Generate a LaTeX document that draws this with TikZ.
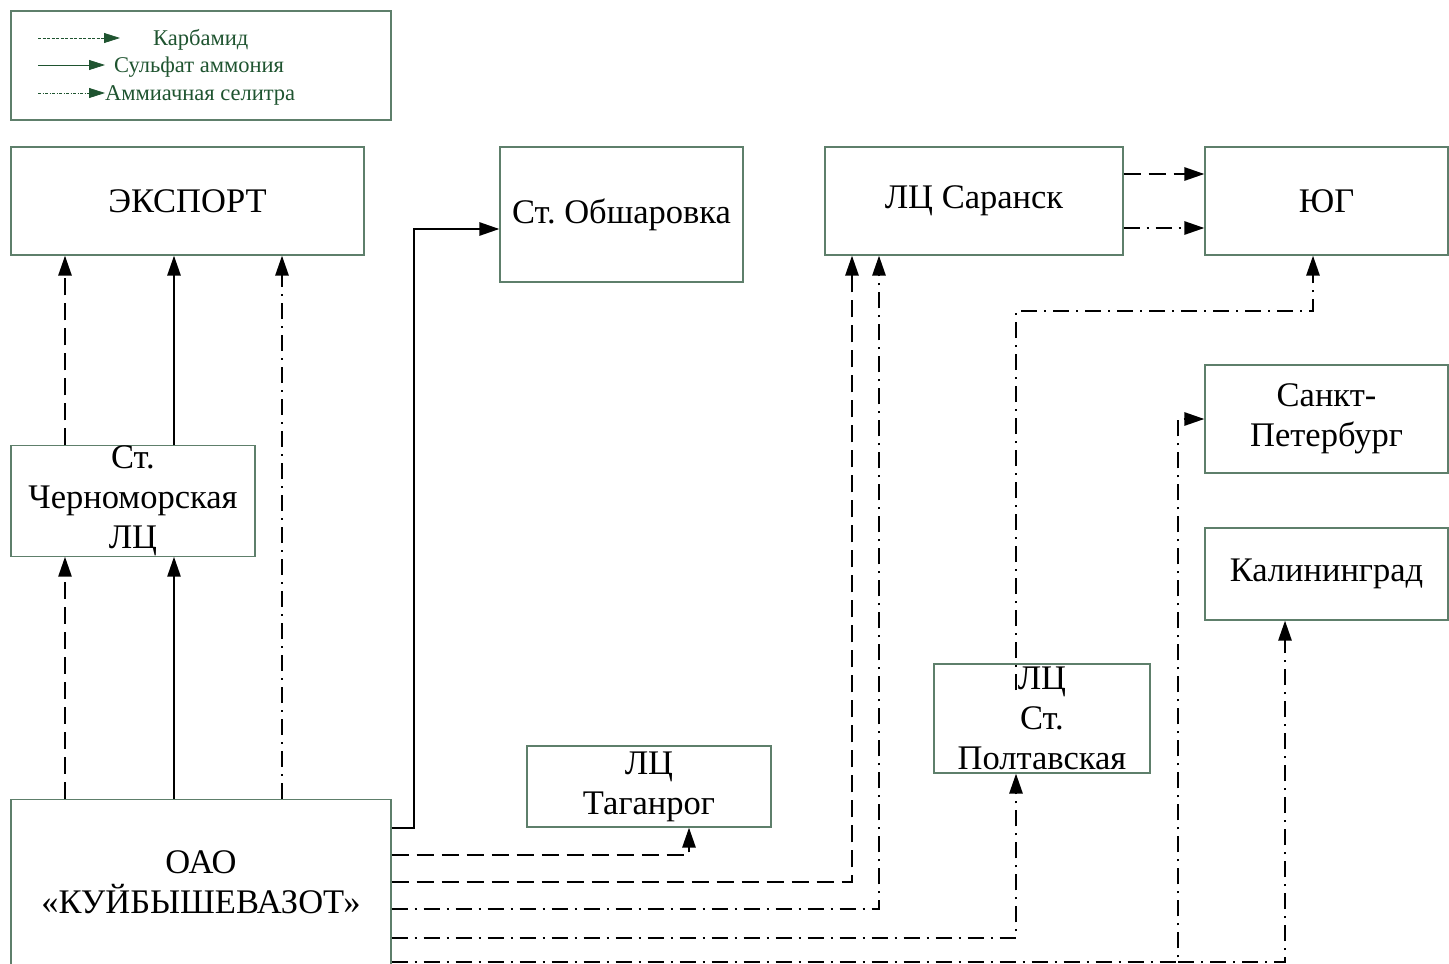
\documentclass[tikz,border=0pt]{standalone}
\usepackage{fontspec}
\setmainfont{Liberation Serif}
\usepackage{xcolor}
\usetikzlibrary{arrows.meta,calc}
\frenchspacing
\definecolor{frame}{HTML}{5E7F6B}
\definecolor{legtext}{HTML}{1F5430}
\tikzset{
  box/.style={draw=frame, line width=1.1pt, inner sep=0pt, align=center,
    font=\fontsize{34.5}{40}\selectfont},
  flow/.style={line width=2.6pt, draw=black, -{Triangle[length=20pt,width=13pt]}},
  karb/.style={flow, dash pattern=on 17pt off 8pt},
  sulf/.style={flow},
  selit/.style={flow, dash pattern=on 16pt off 7pt on 2pt off 7pt},
  legline/.style={line width=0.8pt, draw=legtext, -{Triangle[length=16pt,width=10pt]}},
  legtxt/.style={text=legtext, anchor=base west, inner sep=0pt, font=\fontsize{22.5}{26}\selectfont}
}

\begin{document}
\begin{tikzpicture}[x=1pt,y=-1pt]
  \useasboundingbox (0,0) rectangle (1449,964);

  % legend
  \node[draw=frame, line width=1.1pt, minimum width=380pt, minimum height=109pt] (leg) at (201,65.5) {};
  \coordinate (k0) at (38,38);   \coordinate (k1) at (120,38);
  \coordinate (s0) at (38,65);   \coordinate (s1) at (105,65);
  \coordinate (a0) at (38,93);   \coordinate (a1) at (105,93);
  \draw[legline, dash pattern=on 3pt off 1.5pt] (k0) -- (k1);
  \draw[legline] (s0) -- (s1);
  \draw[legline, dash pattern=on 3pt off 1.5pt on 1pt off 1.5pt] (a0) -- (a1);
  \node[legtxt] (lk) at (153,45) {Карбамид};
  \node[legtxt] (ls) at (114,72) {Сульфат аммония};
  \node[legtxt] (la) at (105,100) {Аммиачная селитра};

  % boxes
  \node[box, minimum width=353pt, minimum height=108pt] (exp) at (187.5,201) {ЭКСПОРТ};
  \node[box, minimum width=243pt, minimum height=135pt] (obs) at (621.5,214.5) {Ст. Обшаровка};
  \node[box, minimum width=298pt, minimum height=108pt] (sar) at (974,201) {ЛЦ Саранск};
  \node[box, minimum width=243pt, minimum height=108pt] (yug) at (1326.5,201) {ЮГ};
  \node[box, minimum width=243pt, minimum height=108pt] (spb) at (1326.5,419) {Санкт-\\Петербург};
  \node[box, minimum width=243pt, minimum height=92pt] (kal) at (1326.5,574) {Калининград};
  \node[box, minimum width=244pt, minimum height=108pt] (cher) at (133,501) {Ст.\\Черноморская\\ЛЦ};
  \node[box, minimum width=216pt, minimum height=109pt] (pol) at (1042,718.5) {ЛЦ\\Ст.\\Полтавская};
  \node[box, minimum width=244pt, minimum height=81pt] (tag) at (649,786.5) {ЛЦ\\Таганрог};
  \node[box, minimum width=380pt, minimum height=165pt] (oao) at (201,882) {ОАО\\«КУЙБЫШЕВАЗОТ»};

  % export branch
  \draw[karb] (oao.north -| 65,0) -- (cher.south -| 65,0);
  \draw[sulf] (oao.north -| 174,0) -- (cher.south -| 174,0);
  \draw[selit] (oao.north -| 282,0) -- (exp.south -| 282,0);
  \draw[karb] (cher.north -| 65,0) -- (exp.south -| 65,0);
  \draw[sulf] (cher.north -| 174,0) -- (exp.south -| 174,0);

  % right side
  \draw[sulf] (oao.east |- 0,828) -| (414,229) -- (obs.west |- 0,229);
  \draw[karb] (oao.east |- 0,855) -| (689,0 |- tag.south);
  \draw[karb] (oao.east |- 0,882) -| (852,0 |- sar.south);
  \draw[selit] (oao.east |- 0,909) -| (879,0 |- sar.south);
  \draw[selit] (oao.east |- 0,938) -| (1016,0 |- pol.south);
  \draw[selit] (oao.east |- 0,962) -| (1178,0 |- spb.west) -- (spb.west);
  \draw[selit] (1178,962) -| (1285,0 |- kal.south);

  \coordinate (polup) at (1016,690);
  \draw[selit] (polup) |- (1313,311) -- (1313,0 |- yug.south);

  \draw[karb] (sar.east |- 0,174) -- (yug.west |- 0,174);
  \draw[selit] (sar.east |- 0,228) -- (yug.west |- 0,228);
\end{tikzpicture}
\end{document}
